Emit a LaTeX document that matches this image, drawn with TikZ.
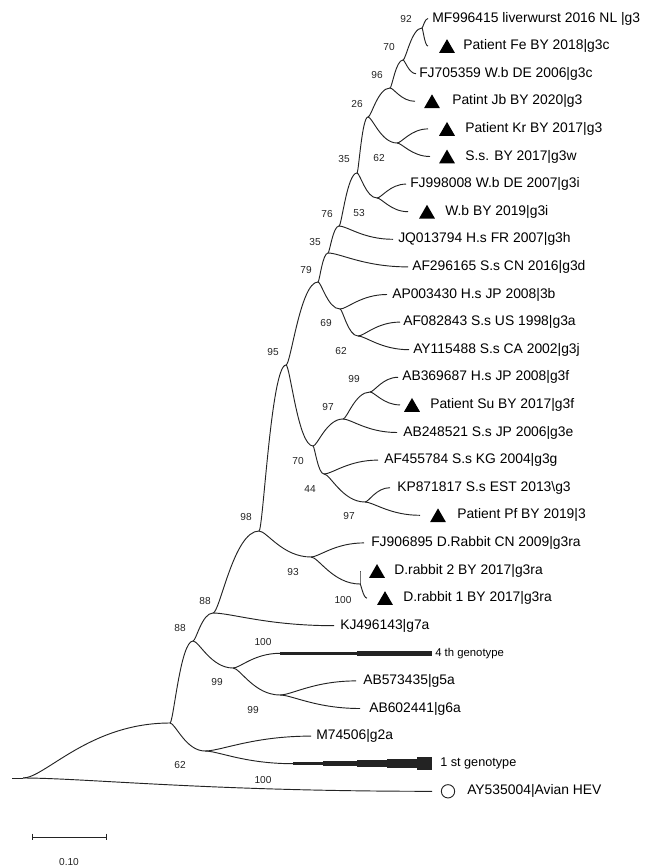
\documentclass[tikz,border=0pt]{standalone}
\usepackage{fontspec}
\setmainfont{Liberation Sans}
\usepackage{tikz}
\usetikzlibrary{shapes.geometric, calc}
\definecolor{TreeInk}{RGB}{35,35,35}

\begin{document}
\begin{tikzpicture}[x=0.75pt, y=-0.75pt,
      branch/.style={draw=TreeInk, line width=0.7pt},
      taxon/.style={anchor=west, inner sep=0pt, font=\fontsize{10.4}{12}\selectfont},
      boot/.style={inner sep=0pt, font=\fontsize{7.6}{9}\selectfont, TreeInk},
      patient/.style={regular polygon, regular polygon sides=3, fill=black,
                      inner sep=0pt, minimum size=13.8pt, yshift=-1.7pt},
      avian/.style={circle, draw=TreeInk, line width=0.7pt,
                    minimum size=10pt, inner sep=0pt}
    ]
    \useasboundingbox (0,0) rectangle (644,866);

    % Internal nodes of the tree
    \foreach \n/\x/\y in {base/12/778, root/23/778, nX/170/723, n62m/205/751,
        n88a/193/641, n88b/213/613, n99a/233/668, n99b/280/695,
        n98/259/531, n93/311/557, nrab/360/584, n95/286/365, n70/313/446,
        n97a/343/419, n99c/370/392, n44/324/474, n97b/365/502,
        n79/318/282, n69/340/309, n62b/358/336, n35b/328/253, n76/339/226,
        n35a/357/173, n53/377/198, n26/368/117, n62c/397/143, n96/390/88,
        n70a/403/60, n92/422/28}
      \coordinate (\n) at (\x,\y);

    % Leaves — tip, row, label start, text
    \foreach \n/\x/\y/\lx/\txt in {
        t0/428/18.5/432/{MF996415 liverwurst 2016 NL |g3},
        t1/428/46.1/463/{Patient Fe BY 2018|g3c},
        t2/416/73.7/419/{FJ705359 W.b DE 2006|g3c},
        t3/415/101.3/452/{Patint Jb BY 2020|g3},
        t4/428/128.9/465/{Patient Kr BY 2017|g3},
        t5/430/156.5/465/{S.s. BY 2017|g3w},
        t6/406/184.1/410/{FJ998008 W.b DE 2007|g3i},
        t7/408/211.7/445/{W.b BY 2019|g3i},
        t8/393/239.3/398/{JQ013794 H.s FR 2007|g3h},
        t9/408/266.9/412/{AF296165 S.s CN 2016|g3d},
        t10/387/294.5/392/{AP003430 H.s JP 2008|3b},
        t11/400/322.1/403/{AF082843 S.s US 1998|g3a},
        t12/409/349.7/413/{AY115488 S.s CA 2002|g3j},
        t13/398/377.3/402/{AB369687 H.s JP 2008|g3f},
        t14/400/404.9/430/{Patient Su BY 2017|g3f},
        t15/397/432.5/403/{AB248521 S.s JP 2006|g3e},
        t16/378/460.1/384/{AF455784 S.s KG 2004|g3g},
        t17/390/487.7/397/{KP871817 S.s EST 2013\textbackslash g3},
        t18/420/515.3/457/{Patient Pf BY 2019|3},
        t19/364/542.9/371/{FJ906895 D.Rabbit CN 2009|g3ra},
        t20/360/571/394/{D.rabbit 2 BY 2017|g3ra},
        t21/367/598.1/403/{D.rabbit 1 BY 2017|g3ra},
        t22/334/625.7/340/{KJ496143|g7a},
        t24/356/680.9/363/{AB573435|g5a},
        t25/360/708.5/369/{AB602441|g6a},
        t26/311/736.1/316/{M74506|g2a},
        t28/432/791.3/467/{AY535004|Avian HEV}
      }{
      \coordinate (\n) at (\x,\y);
      \node[taxon] (l\n) at (\lx,\y) {\txt};
    }

    % Collapsed genotype clades
    \coordinate (t23) at (280,653.3);
    \coordinate (t27) at (293,763.7);
    \node[taxon, font=\fontsize{8.5}{10}\selectfont] (lt23) at (435,653.3) {4 th genotype};
    \node[taxon, font=\fontsize{9.5}{11}\selectfont] (lt27) at (440,763.7) {1 st genotype};
    \foreach \xa/\xb/\h in {280/357/2.8, 357/432/4.8}
      \fill[TreeInk] (\xa,{653.3-\h/2}) rectangle (\xb,{653.3+\h/2});
    \foreach \xa/\xb/\h in {293/323/3.5, 323/357/5.5, 357/387/7.5, 387/417/9.5, 417/432/12.5}
      \fill[TreeInk] (\xa,{763.7-\h/2}) rectangle (\xb,{763.7+\h/2});

    % Branches
    \draw[branch] (base) -- (root);
    \foreach \a/\b in {root/nX, root/t28, nX/n88a, nX/n62m, n62m/t26, n62m/t27,
        n88a/n88b, n88a/n99a, n99a/t23, n99a/n99b, n99b/t24, n99b/t25,
        n88b/n98, n88b/t22, n98/n95, n98/n93, n93/t19, n93/nrab,
        nrab/t20, nrab/t21, n95/n79, n95/n70, n70/n97a, n70/n44,
        n97a/n99c, n97a/t15, n99c/t13, n99c/t14, n44/t16, n44/n97b,
        n97b/t17, n97b/t18, n79/n35b, n79/n69, n69/t10, n69/n62b,
        n62b/t11, n62b/t12, n35b/n76, n35b/t9, n76/n35a, n76/t8,
        n35a/n26, n35a/n53, n53/t6, n53/t7, n26/n96, n26/n62c,
        n62c/t4, n62c/t5, n96/n70a, n96/t3, n70a/n92, n70a/t2,
        n92/t0, n92/t1}
      \draw[branch] let \p1=(\a), \p2=(\b) in
        (\p1) .. controls ({\x1+0.15*(\x2-\x1)},\y1) and ({\x1+0.45*(\x2-\x1)},\y2) .. (\p2);

    % Markers
    \foreach \n/\mx in {t1/447, t3/432, t4/447, t5/447, t7/427,
        t14/412, t18/438, t20/377, t21/385}
      \node[patient] (m\n) at (\mx,0 |- \n) {};
    \node[avian] (mt28) at (448,0 |- t28) {};

    % Bootstrap values
    \foreach \x/\y/\v [count=\i] in {406/19/92, 389/47/70, 377/75/96, 357/104/26,
        344/159/35, 379/158/62, 327/214/76, 359/213/53, 315/242/35, 306/270/79,
        326/323/69, 341/351/62, 273/352/95, 354/379/99, 328/407/97, 298/461/70,
        310/489/44, 349/516/97, 246/517/98, 293/572/93, 343/600/100, 205/601/88,
        180/628/88, 263/642/100, 217/682/99, 253/710/99, 180/765/62, 263/780/100}
      \node[boot] (bs\i) at (\x,\y) {\v};

    % Scale bar
    \coordinate (sb1) at (32,837);
    \coordinate (sb2) at (106,837);
    \draw[branch] (sb1) -- (sb2);
    \draw[branch] ([yshift=2.6pt]sb1) -- ([yshift=-2.6pt]sb1);
    \draw[branch] ([yshift=2.6pt]sb2) -- ([yshift=-2.6pt]sb2);
    \node[boot] (sblabel) at (69,862) {0.10};
  \end{tikzpicture}
\end{document}
